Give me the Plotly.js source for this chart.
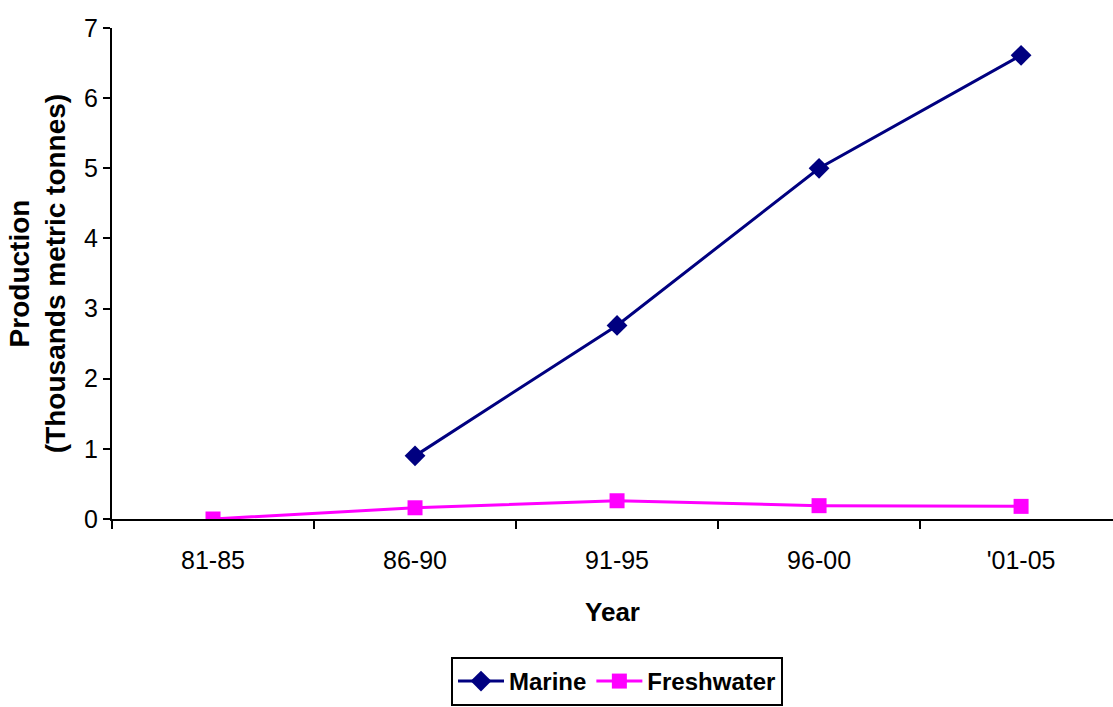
<!DOCTYPE html>
<html>
<head>
<meta charset="utf-8">
<script src="https://cdn.plot.ly/plotly-3.0.1.min.js"></script>
<style>html,body{margin:0;padding:0;background:#fff;}#chart{width:1113px;height:707px;}</style>
</head>
<body>
<div id="chart"></div>
<script>
const categories = ["81-85", "86-90", "91-95", "96-00", "'01-05"];
const marine = [null, 0.9, 2.76, 5.0, 6.61];
const freshwater = [0.0, 0.16, 0.26, 0.19, 0.18];
const yTicks = [0, 1, 2, 3, 4, 5, 6, 7];

const font = "Arial, 'Liberation Sans', sans-serif";

const traces = [
  {
    x: categories, y: marine, name: "Marine", type: "scatter", mode: "lines+markers",
    line: {color: "#000080", width: 3},
    marker: {symbol: "diamond", size: 16, color: "#000080"},
    connectgaps: false
  },
  {
    x: categories, y: freshwater, name: "Freshwater", type: "scatter", mode: "lines+markers",
    line: {color: "#FF00FF", width: 3},
    marker: {symbol: "square", size: 15, color: "#FF00FF"}
  }
];

const layout = {
  width: 1113, height: 707,
  margin: {l: 112, r: 0, t: 28, b: 188, pad: 0},
  paper_bgcolor: "#fff", plot_bgcolor: "#fff",
  font: {family: font, size: 25, color: "#000"},
  showlegend: true,
  xaxis: {
    type: "category",
    range: [-0.5, 4.455],
    tickson: "boundaries",
    ticks: "outside", ticklen: 8, tickwidth: 2, tickcolor: "#000",
    ticklabelstandoff: 18,
    showline: true, linecolor: "#000", linewidth: 2,
    showgrid: false, zeroline: false,
    tickfont: {family: font, size: 25, color: "#000"},
    title: {text: "<b>Year</b>", font: {family: font, size: 26, color: "#000"}, standoff: 30},
    automargin: false, fixedrange: true
  },
  yaxis: {
    range: [0, 7],
    tickvals: yTicks,
    ticks: "outside", ticklen: 7, tickwidth: 2, tickcolor: "#000",
    showline: true, linecolor: "#000", linewidth: 2,
    showgrid: false, zeroline: false,
    tickfont: {family: font, size: 25, color: "#000"},
    title: {text: "<b>Production<br>(Thousands metric tonnes)</b>", font: {family: font, size: 28, color: "#000"}, standoff: 10},
    automargin: false, fixedrange: true
  },
  legend: {
    orientation: "h",
    x: 0.5045, xanchor: "center", xref: "paper",
    y: -0.281, yanchor: "top",
    bordercolor: "#000", borderwidth: 2,
    bgcolor: "#fff",
    font: {family: font, size: 24, color: "#000", weight: "bold"},
    itemwidth: 46,
    tracegroupgap: 0
  }
};

Plotly.newPlot("chart", traces, layout, {displayModeBar: false, staticPlot: true});
</script>
</body>
</html>
